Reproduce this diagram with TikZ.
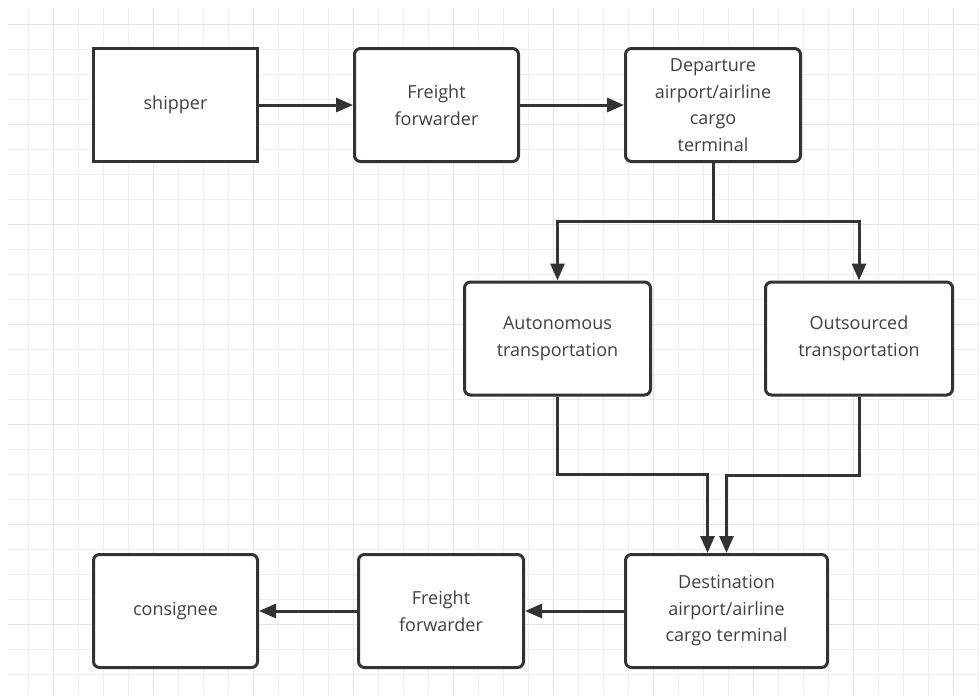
\documentclass[tikz,border=0pt]{standalone}
\usepackage{fontspec}
\setmainfont{Open Sans}
\usetikzlibrary{arrows.meta}
\definecolor{ink}{HTML}{333333}
\definecolor{txt}{HTML}{404040}
\definecolor{gridminor}{HTML}{EFEFEF}
\definecolor{gridmajor}{HTML}{E3E3E3}
\begin{document}
\begin{tikzpicture}[x=1pt,y=-1pt,
  box/.style={draw=ink,line width=3pt,rounded corners=6pt,fill=white,text=txt,
    align=center,inner sep=0pt,minimum height=113pt,font=\fontsize{18}{26.5}\selectfont},
  flow/.style={draw=ink,line width=3pt,-{Triangle[length=17pt,width=14pt]}}]
\useasboundingbox (0,0) rectangle (979,697);
% grid
\foreach \x in {28,53,...,978}
  \draw[gridminor,line width=1pt] (\x,8) -- (\x,695);
\foreach \y in {24,49,...,674}
  \draw[gridminor,line width=1pt] (8,\y) -- (979,\y);
\foreach \x in {53,153,...,953}
  \draw[gridmajor,line width=1pt] (\x,8) -- (\x,695);
\foreach \y in {24,124,...,624}
  \draw[gridmajor,line width=1pt] (8,\y) -- (979,\y);
% top row
\node[box,sharp corners,minimum width=164pt] (shipper) at (175.5,105) {shipper};
\node[box,minimum width=164pt] (fwdA) at (436.5,105) {Freight\\forwarder};
\node[box,minimum width=175pt] (depart) at (713,105) {Departure\\airport/airline\\cargo\\terminal};
% middle row
\node[box,minimum width=186pt] (auto) at (557.5,338.5) {Autonomous\\transportation};
\node[box,minimum width=187pt] (outsrc) at (859,338.5) {Outsourced\\transportation};
% bottom row
\node[box,minimum width=202pt] (dest) at (726.5,611) {Destination\\airport/airline\\cargo terminal};
\node[box,minimum width=165pt] (fwdB) at (441,611) {Freight\\forwarder};
\node[box,minimum width=164pt] (consig) at (175.5,611) {consignee};
\coordinate (split) at (713,221);
\coordinate (inA) at ([xshift=-19pt]dest.north);
% connectors
\draw[flow] (shipper) -- (fwdA);
\draw[flow] (fwdA) -- (depart);
\draw[flow] (depart.south) -- (split) -| (auto.north);
\draw[flow] (split) -| (outsrc.north);
\draw[flow] (auto.south) -- ++(0,78) -| (inA);
\draw[flow] (outsrc.south) -- ++(0,79) -| (dest.north);
\draw[flow] (dest) -- (fwdB);
\draw[flow] (fwdB) -- (consig);
\end{tikzpicture}
\end{document}
